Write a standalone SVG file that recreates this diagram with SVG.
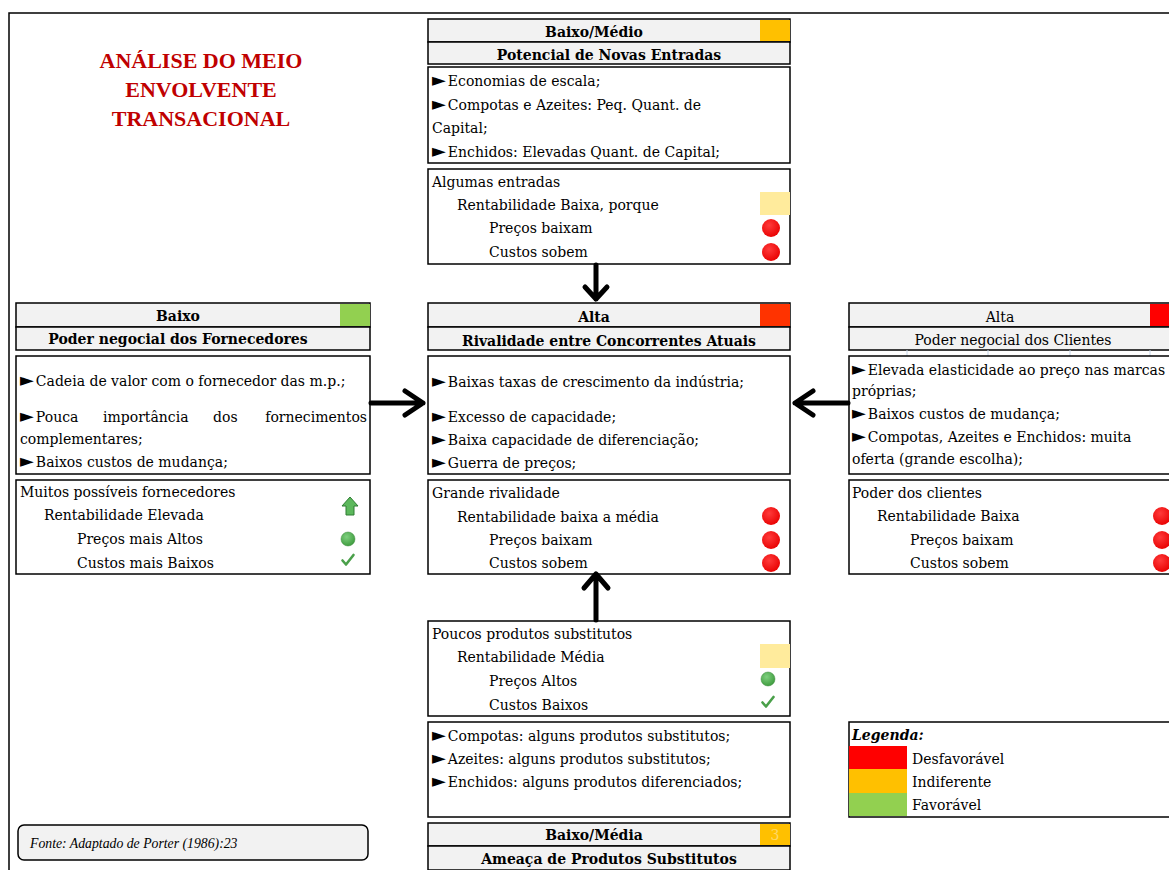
<svg xmlns="http://www.w3.org/2000/svg" width="1169" height="870" viewBox="0 0 1169 870">
<style>
text{font-family:"DejaVu Serif","Liberation Serif",serif;font-size:14px;fill:#000}
.t{font-family:"DejaVu Sans",sans-serif;font-size:18px}
.b{font-weight:bold}
.c{text-anchor:middle}
.hdr{fill:#f2f2f2;stroke:#000;stroke-width:1.5}
.box{fill:#fff;stroke:#000;stroke-width:1.5}
.conn{fill:none;stroke:#000;stroke-width:5;stroke-linecap:round;stroke-linejoin:round}
.title{font-family:"Liberation Serif",serif;font-size:22px;font-weight:bold;fill:#c00000;text-anchor:middle}
.grid{stroke:#c5d5e8;stroke-width:1}
</style>
<defs>
<radialGradient id="rg" cx="0.4" cy="0.35" r="0.7">
<stop offset="0" stop-color="#ff3b3b"/><stop offset="1" stop-color="#e80000"/>
</radialGradient>
<radialGradient id="gg" cx="0.4" cy="0.35" r="0.7">
<stop offset="0" stop-color="#7fd07f"/><stop offset="1" stop-color="#3c9a3c"/>
</radialGradient>
</defs>
<rect width="1169" height="870" fill="#fff"/>
<path d="M9,870 V13 H1169" fill="none" stroke="#000" stroke-width="1.5"/>

<g id="title">
<text class="title" x="201" y="68">ANÁLISE DO MEIO</text>
<text class="title" x="201" y="97">ENVOLVENTE</text>
<text class="title" x="201" y="126">TRANSACIONAL</text>
</g>

<g id="novas-entradas">
<rect class="hdr" x="428" y="19" width="362" height="23"/>
<rect x="760" y="20" width="30" height="21" fill="#ffc000"/>
<rect class="hdr" x="428" y="42" width="362" height="22"/>
<text class="b c" x="594" y="37">Baixo/Médio</text>
<text class="b c" x="609" y="60">Potencial de Novas Entradas</text>
<rect class="box" x="428" y="67" width="362" height="96"/>
<text x="432" y="86"><tspan class="t">►</tspan><tspan dx="2">Economias de escala;</tspan></text>
<text x="432" y="110"><tspan class="t">►</tspan><tspan dx="2">Compotas e Azeites: Peq. Quant. de</tspan></text>
<text x="432" y="133">Capital;</text>
<text x="432" y="157"><tspan class="t">►</tspan><tspan dx="2">Enchidos: Elevadas Quant. de Capital;</tspan></text>
<rect class="box" x="428" y="169" width="362" height="95"/>
<rect x="760" y="192" width="30" height="23" fill="#ffeb9c"/>
<text x="432" y="187">Algumas entradas</text>
<text x="457" y="210">Rentabilidade Baixa, porque</text>
<text x="489" y="233">Preços baixam</text>
<text x="489" y="257">Custos sobem</text>
<circle cx="771" cy="228" r="9" fill="url(#rg)"/>
<circle cx="771" cy="252" r="9" fill="url(#rg)"/>
</g>

<g id="fornecedores">
<rect class="hdr" x="16" y="303" width="354" height="24"/>
<rect x="340" y="304" width="30" height="22" fill="#92d050"/>
<rect class="hdr" x="16" y="327" width="354" height="23"/>
<text class="b c" x="178" y="321">Baixo</text>
<text class="b c" x="178" y="344">Poder negocial dos Fornecedores</text>
<rect class="box" x="16" y="356" width="354" height="118"/>
<text x="20" y="386"><tspan class="t">►</tspan><tspan dx="2">Cadeia de valor com o fornecedor das m.p.;</tspan></text>
<text x="20" y="422"><tspan class="t">►</tspan><tspan dx="2">Pouca</tspan></text>
<text x="103" y="422">importância</text>
<text x="213" y="422">dos</text>
<text x="367" y="422" text-anchor="end">fornecimentos</text>
<text x="20" y="444">complementares;</text>
<text x="20" y="467"><tspan class="t">►</tspan><tspan dx="2">Baixos custos de mudança;</tspan></text>
<rect class="box" x="16" y="480" width="354" height="94"/>
<text x="20" y="497">Muitos possíveis fornecedores</text>
<text x="44" y="520">Rentabilidade Elevada</text>
<text x="77" y="544">Preços mais Altos</text>
<text x="77" y="568">Custos mais Baixos</text>
<path d="M350,497 L358,506 L354,506 L354,515 L346,515 L346,506 L342,506 Z" fill="#5cb85c" stroke="#2e7d32" stroke-width="1"/>
<circle cx="348" cy="539" r="7" fill="url(#gg)" stroke="#3c8a3c" stroke-width="0.5"/>
<path d="M342.5,560.5 L346,564.5 L353.5,555" fill="none" stroke="#4aa04a" stroke-width="2.6" stroke-linecap="round" stroke-linejoin="round"/>
</g>

<g id="rivalidade">
<rect class="hdr" x="428" y="303" width="362" height="24"/>
<rect x="760" y="304" width="30" height="22" fill="#ff3300"/>
<rect class="hdr" x="428" y="327" width="362" height="23"/>
<text class="b c" x="594" y="322">Alta</text>
<text class="b c" x="609" y="346">Rivalidade entre Concorrentes Atuais</text>
<rect class="box" x="428" y="356" width="362" height="118"/>
<text x="432" y="387"><tspan class="t">►</tspan><tspan dx="2">Baixas taxas de crescimento da indústria;</tspan></text>
<text x="432" y="422"><tspan class="t">►</tspan><tspan dx="2">Excesso de capacidade;</tspan></text>
<text x="432" y="445"><tspan class="t">►</tspan><tspan dx="2">Baixa capacidade de diferenciação;</tspan></text>
<text x="432" y="468"><tspan class="t">►</tspan><tspan dx="2">Guerra de preços;</tspan></text>
<rect class="box" x="428" y="480" width="362" height="94"/>
<text x="432" y="498">Grande rivalidade</text>
<text x="457" y="522">Rentabilidade baixa a média</text>
<text x="489" y="545">Preços baixam</text>
<text x="489" y="568">Custos sobem</text>
<circle cx="771" cy="516" r="9" fill="url(#rg)"/>
<circle cx="771" cy="540" r="9" fill="url(#rg)"/>
<circle cx="771" cy="563" r="9" fill="url(#rg)"/>
</g>

<g id="clientes">
<rect class="hdr" x="849" y="303" width="330" height="24"/>
<rect x="1150" y="304" width="30" height="22" fill="#ff0000"/>
<rect class="hdr" x="849" y="327" width="330" height="23"/>
<text class="c" x="1000" y="322">Alta</text>
<text class="c" x="1013" y="345">Poder negocial dos Clientes</text>
<line class="grid" x1="907" y1="350" x2="907" y2="356"/>
<line class="grid" x1="988" y1="350" x2="988" y2="356"/>
<line class="grid" x1="1070" y1="350" x2="1070" y2="356"/>
<line class="grid" x1="1150" y1="350" x2="1150" y2="356"/>
<rect class="box" x="849" y="356" width="330" height="118"/>
<text x="852" y="375"><tspan class="t">►</tspan><tspan dx="2">Elevada elasticidade ao preço nas marcas</tspan></text>
<text x="852" y="396">próprias;</text>
<text x="852" y="419"><tspan class="t">►</tspan><tspan dx="2">Baixos custos de mudança;</tspan></text>
<text x="852" y="442"><tspan class="t">►</tspan><tspan dx="2">Compotas, Azeites e Enchidos: muita</tspan></text>
<text x="852" y="464">oferta (grande escolha);</text>
<rect class="box" x="849" y="480" width="330" height="94"/>
<text x="852" y="498">Poder dos clientes</text>
<text x="877" y="521">Rentabilidade Baixa</text>
<text x="910" y="545">Preços baixam</text>
<text x="910" y="568">Custos sobem</text>
<circle cx="1162" cy="516" r="9" fill="url(#rg)"/>
<circle cx="1162" cy="540" r="9" fill="url(#rg)"/>
<circle cx="1162" cy="563" r="9" fill="url(#rg)"/>
</g>

<g id="substitutos">
<rect class="box" x="428" y="621" width="362" height="95"/>
<rect x="760" y="644" width="30" height="24" fill="#ffeb9c"/>
<text x="432" y="639">Poucos produtos substitutos</text>
<text x="457" y="662">Rentabilidade Média</text>
<text x="489" y="686">Preços Altos</text>
<text x="489" y="710">Custos Baixos</text>
<circle cx="768" cy="679" r="7" fill="url(#gg)" stroke="#3c8a3c" stroke-width="0.5"/>
<path d="M762.5,702.5 L766,706.5 L773.5,697" fill="none" stroke="#4aa04a" stroke-width="2.6" stroke-linecap="round" stroke-linejoin="round"/>
<rect class="box" x="428" y="722" width="362" height="95"/>
<text x="432" y="741"><tspan class="t">►</tspan><tspan dx="2">Compotas: alguns produtos substitutos;</tspan></text>
<text x="432" y="764"><tspan class="t">►</tspan><tspan dx="2">Azeites: alguns produtos substitutos;</tspan></text>
<text x="432" y="787"><tspan class="t">►</tspan><tspan dx="2">Enchidos: alguns produtos diferenciados;</tspan></text>
<rect class="hdr" x="428" y="823" width="362" height="23"/>
<rect x="760" y="824" width="30" height="21" fill="#ffc000"/>
<text class="c" x="775" y="840" style="fill:#ffd966">3</text>
<rect class="hdr" x="428" y="846" width="362" height="24"/>
<text class="b c" x="594" y="840">Baixo/Média</text>
<text class="b c" x="609" y="864">Ameaça de Produtos Substitutos</text>
</g>

<g id="legenda">
<rect class="box" x="849" y="722" width="330" height="95"/>
<text x="852" y="740" style="font-weight:bold;font-style:italic">Legenda:</text>
<rect x="849" y="746" width="58" height="23" fill="#ff0000"/>
<rect x="849" y="769" width="58" height="24" fill="#ffc000"/>
<rect x="849" y="793" width="58" height="23" fill="#92d050"/>
<text x="912" y="764">Desfavorável</text>
<text x="912" y="787">Indiferente</text>
<text x="912" y="810">Favorável</text>
</g>

<g id="fonte">
<rect x="18" y="825" width="350" height="35" rx="6" fill="#f2f2f2" stroke="#000" stroke-width="1.5"/>
<text x="30" y="848" style="font-family:'Liberation Serif',serif;font-size:13.75px;font-style:italic">Fonte: Adaptado de Porter (1986):23</text>
</g>

<g id="connectors">
<path class="conn" d="M596,265 V299 M585,287 L596,299 L607,287"/>
<path class="conn" d="M596,620 V574 M584,588 L596,574 L608,588"/>
<path class="conn" d="M371,403 H423 M405,391 L423,403 L405,415"/>
<path class="conn" d="M848,403 H795 M813,391 L795,403 L813,415"/>
</g>
</svg>
